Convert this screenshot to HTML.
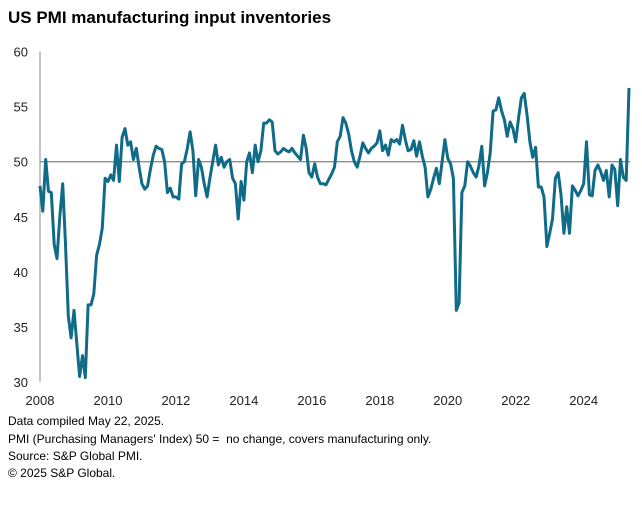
<!DOCTYPE html>
<html><head><meta charset="utf-8">
<style>
body{margin:0;background:#fff;font-family:"Liberation Sans",sans-serif;}
#wrap{position:relative;width:642px;height:507px;overflow:hidden;}
.title{position:absolute;left:8px;top:8px;font-size:17px;font-weight:bold;color:#000;}
.foot{position:absolute;left:8px;font-size:12px;color:#000;}
svg text{font-family:"Liberation Sans",sans-serif;font-size:13px;fill:#222;}
</style></head><body>
<div id="wrap">
<div class="title">US PMI manufacturing input inventories</div>
<svg id="chart" width="642" height="507" style="position:absolute;left:0;top:0"></svg>
<div class="foot" style="top:414px">Data compiled May 22, 2025.</div>
<div class="foot" style="top:432px">PMI (Purchasing Managers' Index) 50 =&nbsp; no change, covers manufacturing only.</div>
<div class="foot" style="top:449px">Source: S&amp;P Global PMI.</div>
<div class="foot" style="top:466px">© 2025 S&amp;P Global.</div>
</div>
<script>
const startYear = 2008;
const yTicks = [30,35,40,45,50,55,60];
const xTickYears = [2008,2010,2012,2014,2016,2018,2020,2022,2024];
const pmiValues = [
47.8,45.5,50.2,47.3,47.2,42.5,41.2,45,48,42.5,36,34,36.5,33.5,30.5,32.4,30.4,37,37,38,41.5,42.5,44,48.5,48.2,48.8,48.3,51.5,48.2,52.2,53,51.5,51.8,50.2,51.2,49.5,48,47.5,47.8,49.3,50.6,51.4,51.2,51.1,50,47.2,47.6,46.8,46.8,46.6,49.8,50,51.2,52.7,51,46.9,50.2,49.5,48,46.8,48.5,50,51.5,49.7,50.4,49.5,50,50.2,48.5,48,44.8,
48.2,46.5,50,50.8,49,51.5,50,51,53.5,53.5,53.8,53.6,51,50.7,50.9,51.2,51,50.9,51.2,50.8,50.5,50.2,52.4,51.2,49,48.6,49.8,48.6,48,48,47.9,48.4,48.9,49.5,51.8,52.3,54,53.5,52.5,51,50,49.5,50.5,51.7,51.2,50.8,51.2,51.4,51.7,52.8,51,51.5,50.6,52,51.8,52,51.6,53.3,52,51,51.1,51.9,50.5,51.8,50.5,49.5,46.8,47.5,48.5,49.4,48,
50,52,50.3,49.8,48.5,36.5,37.2,47.2,47.8,50,49.6,49,48.6,49.6,51.4,47.8,49,50.8,54.6,54.7,55.8,54.6,53.8,52.3,53.6,53,51.8,54,55.8,56.2,54.2,51.8,50.4,51.3,47.7,47.7,46.8,42.3,43.5,44.8,48.5,49,47,43.5,45.9,43.5,47.8,47.4,46.9,47.4,48,51.8,47,46.9,49.2,49.7,49.1,48.3,49.2,46.8,49.7,49.3,46,50.2,48.6,48.3,56.7
];
const NS="http://www.w3.org/2000/svg";
const svg=document.getElementById('chart');
const x0=40, lastX=629, yTop=51.5, yBot=382;
const nMonths=pmiValues.length-1;
function xScale(m){return x0+m*(lastX-x0)/nMonths;}
function yScale(v){return yBot-(v-30)*(yBot-yTop)/30;}
function mk(tag,attrs){const e=document.createElementNS(NS,tag);for(const k in attrs)e.setAttribute(k,attrs[k]);svg.appendChild(e);return e;}
// y axis
let ax=mk('line',{x1:x0,x2:x0,y1:yTop,y2:yBot,stroke:'#a6a6a6','stroke-width':1.3});


// 50 line
let gl=mk('line',{x1:x0,x2:630,y1:yScale(50),y2:yScale(50),stroke:'#8c8c8c','stroke-width':1.3});


yTicks.forEach(v=>{
  const t=mk('text',{x:28,y:yScale(v)+5,'text-anchor':'end'});
  t.textContent=v;
  
  
});
xTickYears.forEach(yr=>{
  const t=mk('text',{x:xScale((yr-startYear)*12),y:405,'text-anchor':'middle'});
  t.textContent=yr;
  
  
});
const pts=pmiValues.map((v,i)=>xScale(i).toFixed(1)+','+yScale(v).toFixed(1)).join(' ');
const line=mk('polyline',{points:pts,fill:'none',stroke:'#0f6b87','stroke-width':3,'stroke-linejoin':'round'});


</script>
</body></html>
